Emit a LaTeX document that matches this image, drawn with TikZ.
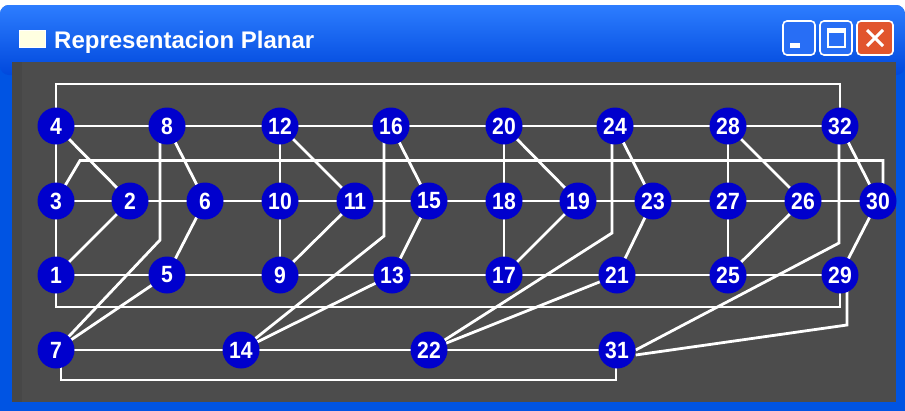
\documentclass[tikz,border=0pt]{standalone}
\usepackage{fontspec}
\newfontfamily\lsans{Liberation Sans}
\newfontfamily\lnarrow{Liberation Sans}[FakeStretch=0.9]
\usetikzlibrary{calc}
\definecolor{winblue}{RGB}{0,84,227}
\definecolor{tbtop}{RGB}{45,125,255}
\definecolor{tbmid}{RGB}{8,85,235}
\definecolor{tbbot}{RGB}{0,72,220}
\definecolor{client}{RGB}{76,76,76}
\definecolor{vblue}{RGB}{0,0,205}
\definecolor{btnblue}{RGB}{40,110,245}
\definecolor{btnred}{RGB}{225,85,45}
\definecolor{iconfill}{RGB}{255,255,225}
\pgfdeclarelayer{win}
\pgfdeclarelayer{edges}
\pgfsetlayers{win,edges,main}
\tikzset{
  vtx/.style={circle, fill=vblue, minimum size=37pt, inner sep=0pt, text=white,
    font=\lnarrow\bfseries\fontsize{23.5}{23.5}\selectfont},
  wire/.style={draw=white, line width=2.8pt, line join=miter},
  btn/.style={draw=white, line width=1.6pt, rounded corners=4pt},
}
\begin{document}
\begin{tikzpicture}[x=1pt,y=-1pt]
\useasboundingbox (0,0) rectangle (905,410);
\clip (0,0) rectangle (905,410);
% ---------------- nodes ----------------
\foreach \n/\x in {4/56,8/167,12/280,16/391,20/504,24/615,28/728,32/840}
  \node[vtx] (n\n) at (\x,126) {\n};
\foreach \n/\x in {3/56,2/130,6/205,10/280,11/355,15/429,18/504,19/578,23/653,27/728,26/803,30/878}
  \node[vtx] (n\n) at (\x,201) {\n};
\foreach \n/\x in {1/56,5/167,9/280,13/392,17/504,21/617,25/728,29/840}
  \node[vtx] (n\n) at (\x,275) {\n};
\foreach \n/\x in {7/56,14/241,22/429,31/617}
  \node[vtx] (n\n) at (\x,350) {\n};
% bend points
\coordinate (t1) at (56,84);   \coordinate (t2) at (840,84);
\coordinate (s1) at (80,160.5); \coordinate (s2) at (883,160.5);
\coordinate (u1) at (56,307);  \coordinate (u2) at (840,307);
\coordinate (w1) at (61,380);  \coordinate (w2) at (616,380);
\coordinate (b8) at (160,240);
\coordinate (b16) at (384,236);
\coordinate (b24) at (612,233);
\coordinate (b32) at (839,243);
\coordinate (b29) at (847,325);
% ---------------- edges ----------------
\begin{pgfonlayer}{edges}
\draw[wire] (n4.center) -- (n8.center) -- (n12.center) -- (n16.center) -- (n20.center)
  -- (n24.center) -- (n28.center) -- (n32.center);
\draw[wire] (n3.center) -- (n2.center) -- (n6.center) -- (n10.center) -- (n11.center)
  -- (n15.center) -- (n18.center) -- (n19.center) -- (n23.center) -- (n27.center)
  -- (n26.center) -- (n30.center);
\draw[wire] (n1.center) -- (n5.center) -- (n9.center) -- (n13.center) -- (n17.center)
  -- (n21.center) -- (n25.center) -- (n29.center);
\draw[wire] (n7.center) -- (n14.center) -- (n22.center) -- (n31.center);
% verticals
\foreach \a/\b in {4/3,3/1,12/10,10/9,20/18,18/17,28/27,27/25}
  \draw[wire] (n\a.center) -- (n\b.center);
% diagonals
\foreach \a/\b in {4/2,2/1,8/6,6/5,12/11,11/9,16/15,15/13,20/19,19/17,24/23,23/21,28/26,26/25,32/30,30/29,5/7,13/14,21/22}
  \draw[wire] (n\a.center) -- (n\b.center);
% frames
\draw[wire] (n4.center) -- (t1) -- (t2) -- (n32.center);
\draw[wire] (n3.center) -- (s1) -- (s2) -- (s2 |- n30.center);
\draw[wire] (n1.center) -- (u1) -- (u2) -- (n29.center);
\draw[wire] (w1 |- n7.center) -- (w1) -- (w2) -- (w2 |- n31.center);
% long bent connectors
\draw[wire] (b8 |- n8.center) -- (b8) -- (n7.center);
\draw[wire] (b16 |- n16.center) -- (b16) -- (n14.center);
\draw[wire] (b24 |- n24.center) -- (b24) -- (n22.center);
\draw[wire] (b32 |- n32.center) -- (b32) -- (n31.east);
\draw[wire] (b29 |- n29.center) -- (b29) -- ([yshift=-5pt]n31.east);
\end{pgfonlayer}
% ---------------- window ----------------
\begin{pgfonlayer}{win}
\fill[white] (0,0) rectangle (905,410);
\fill[winblue, rounded corners=9pt] (0,5) rectangle (905,440);
\shade[top color=tbtop, middle color=tbmid, bottom color=tbbot, rounded corners=9pt]
  (0,5) rectangle (905,75);
\fill[client] (12,62) rectangle (896,402);
\fill[black!75, opacity=0.35] (12,62) rectangle (22,402);
% icon
\fill[iconfill, draw=white, line width=1pt] (19,30) rectangle (45,47);
% title
\node[anchor=base west, text=white, inner sep=0pt,
  font=\lsans\bfseries\fontsize{24}{24}\selectfont] (title) at (54,48) {Representacion Planar};
% buttons
\draw[btn, fill=btnblue] (783,21) rectangle (815,55);
\fill[white] (790,43) rectangle (800,48);
\draw[btn, fill=btnblue] (820,21) rectangle (852,55);
\draw[white, line width=1.5pt] (828,29) rectangle (845,47);
\fill[white] (828,29) rectangle (845,33);
\draw[btn, fill=btnred] (857,21) rectangle (893,55);
\draw[white, line width=3pt] (867,30) -- (883,46) (883,30) -- (867,46);
\end{pgfonlayer}
\end{tikzpicture}
\end{document}
